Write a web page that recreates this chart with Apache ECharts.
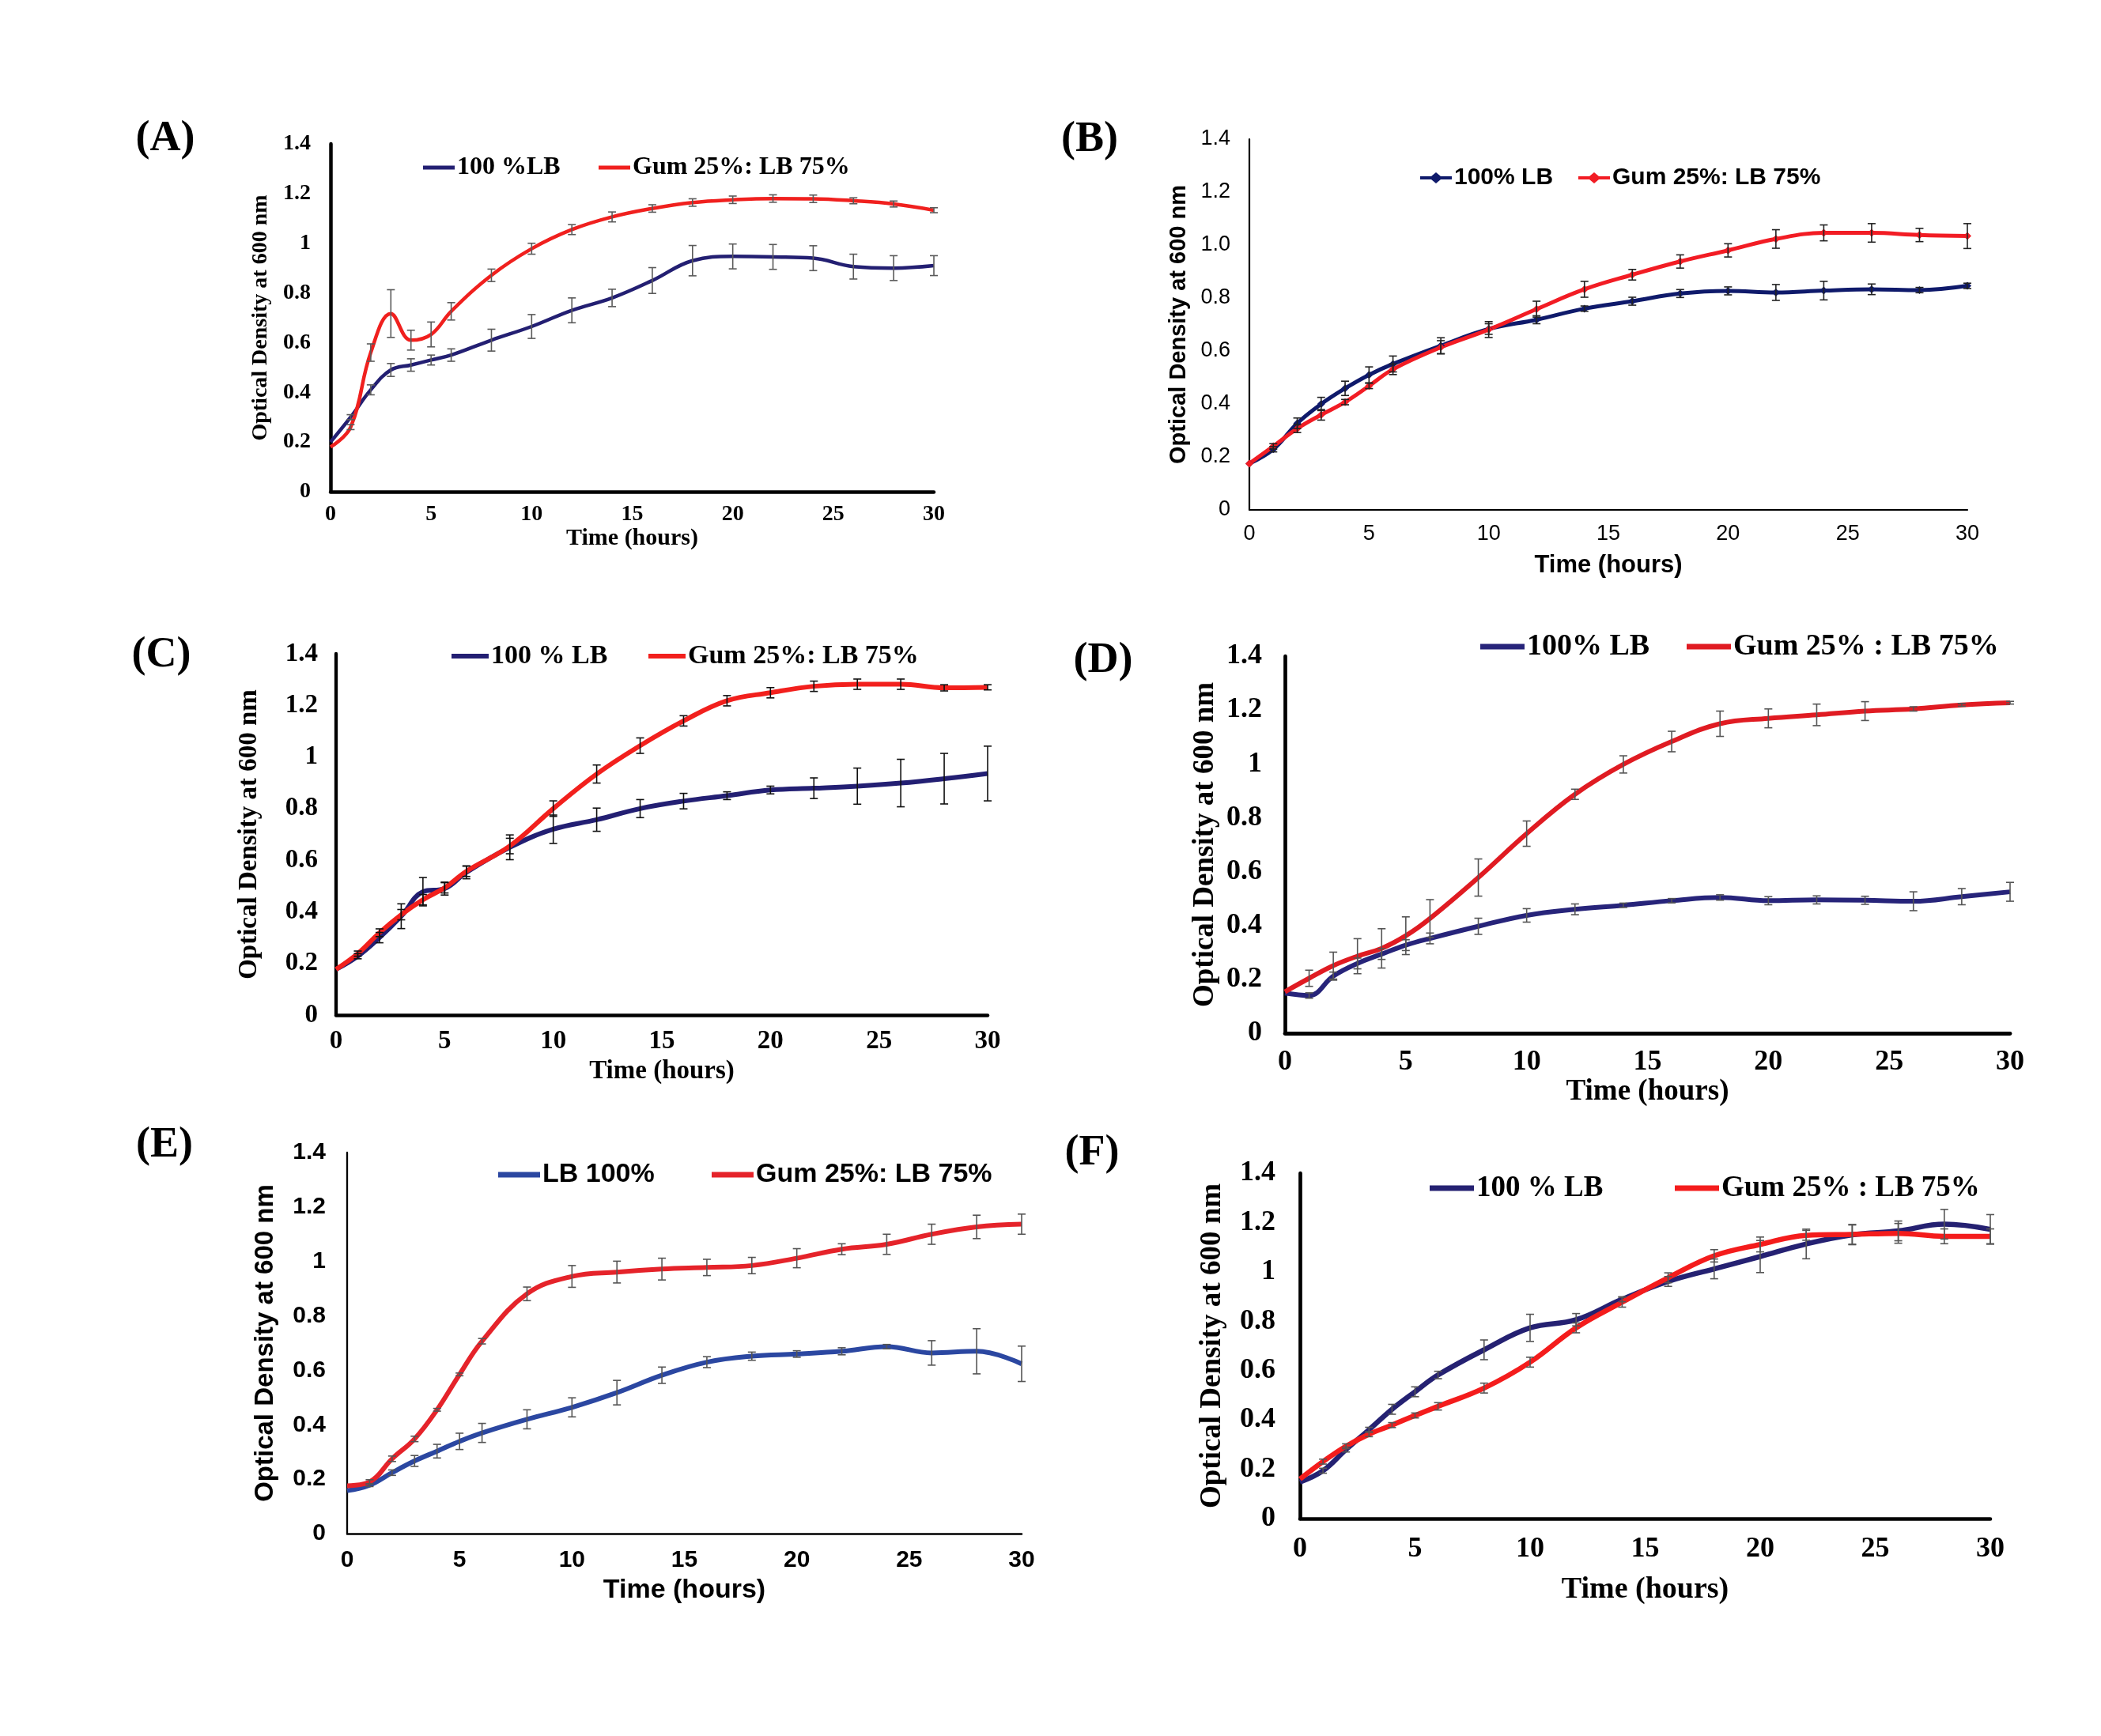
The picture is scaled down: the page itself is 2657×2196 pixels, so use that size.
<!DOCTYPE html>
<html>
<head>
<meta charset="utf-8">
<title>Growth curves A-F</title>
<script src="https://cdn.jsdelivr.net/npm/echarts@6/dist/echarts.min.js"></script>
<style>
html,body{margin:0;padding:0;background:#fff;}
#main{width:2657px;height:2196px;}
</style>
</head>
<body>
<div id="main"></div>
<script>
// sampling times (hours), same for every panel
var hours = [0,1,2,3,4,5,6,8,10,12,14,16,18,20,22,24,26,28,30];

// (A)
var aLB     = [0.20,0.30,0.41,0.49,0.51,0.53,0.55,0.61,0.665,0.73,0.78,0.85,0.93,0.947,0.945,0.94,0.906,0.90,0.91];
var aLBErr  = [0,0.01,0.02,0.026,0.025,0.02,0.025,0.044,0.048,0.05,0.035,0.052,0.061,0.05,0.05,0.05,0.05,0.05,0.04];
var aGum    = [0.18,0.26,0.56,0.717,0.61,0.633,0.726,0.871,0.978,1.055,1.106,1.14,1.164,1.175,1.18,1.179,1.171,1.158,1.133];
var aGumErr = [0,0.01,0.035,0.096,0.04,0.05,0.035,0.025,0.022,0.02,0.02,0.015,0.015,0.015,0.015,0.015,0.012,0.012,0.01];
// (B)
var bLB     = [0.175,0.229,0.327,0.40,0.459,0.51,0.551,0.62,0.683,0.718,0.76,0.788,0.817,0.827,0.821,0.828,0.833,0.83,0.846];
var bLBErr  = [0,0.01,0.02,0.025,0.027,0.03,0.03,0.03,0.02,0.015,0.01,0.015,0.015,0.015,0.03,0.035,0.02,0.01,0.01];
var bGum    = [0.175,0.24,0.307,0.359,0.407,0.468,0.531,0.614,0.681,0.758,0.833,0.888,0.938,0.98,1.023,1.046,1.046,1.038,1.034];
var bGumErr = [0,0.01,0.015,0.02,0.01,0.01,0.02,0.025,0.03,0.03,0.03,0.02,0.025,0.025,0.035,0.03,0.035,0.025,0.047];
// (C)
var cLB     = [0.177,0.228,0.30,0.383,0.478,0.49,0.553,0.65,0.72,0.757,0.80,0.829,0.85,0.872,0.879,0.887,0.899,0.916,0.936];
var cLBErr  = [0,0.01,0.02,0.048,0.055,0.025,0.025,0.048,0.055,0.045,0.035,0.03,0.015,0.015,0.04,0.07,0.092,0.098,0.106];
var cGum    = [0.177,0.238,0.319,0.389,0.447,0.493,0.557,0.655,0.80,0.934,1.044,1.14,1.218,1.249,1.274,1.282,1.282,1.268,1.27];
var cGumErr = [0,0.01,0.015,0.02,0.02,0.02,0.02,0.03,0.03,0.035,0.03,0.02,0.02,0.02,0.02,0.02,0.02,0.012,0.01];
// (D)
var dLB     = [0.149,0.14,0.212,0.259,0.294,0.327,0.352,0.397,0.4375,0.46,0.475,0.492,0.504,0.492,0.495,0.4935,0.49,0.507,0.525];
var dLBErr  = [0,0.01,0.015,0.02,0.02,0.02,0.02,0.03,0.025,0.02,0.008,0.008,0.01,0.015,0.015,0.015,0.035,0.03,0.035];
var dGum    = [0.154,0.204,0.251,0.286,0.315,0.362,0.426,0.578,0.741,0.887,0.998,1.083,1.149,1.169,1.182,1.196,1.204,1.219,1.227];
var dGumErr = [0,0.03,0.05,0.065,0.073,0.07,0.07,0.069,0.047,0.019,0.032,0.038,0.047,0.035,0.04,0.035,0.008,0.005,0.005];
// (E)
var eLB     = [0.158,0.178,0.224,0.267,0.303,0.339,0.37,0.42,0.464,0.518,0.582,0.63,0.652,0.66,0.67,0.687,0.664,0.67,0.624];
var eLBErr  = [0,0.005,0.01,0.02,0.025,0.03,0.035,0.035,0.035,0.045,0.03,0.02,0.015,0.012,0.013,0.008,0.045,0.083,0.065];
var eGum    = [0.176,0.19,0.275,0.348,0.455,0.585,0.707,0.881,0.945,0.961,0.972,0.978,0.985,1.012,1.045,1.063,1.10,1.127,1.137];
var eGumErr = [0,0.008,0.01,0.01,0.005,0.005,0.01,0.025,0.04,0.04,0.04,0.03,0.03,0.035,0.02,0.037,0.037,0.043,0.037];
// (F)
var fLB     = [0.148,0.194,0.28,0.36,0.443,0.514,0.582,0.684,0.773,0.806,0.889,0.961,1.012,1.062,1.113,1.15,1.166,1.193,1.172];
var fLBErr  = [0,0.01,0.01,0.01,0.02,0.02,0.015,0.04,0.055,0.025,0.01,0.02,0.04,0.065,0.06,0.04,0.04,0.06,0.06];
var fGum    = [0.16,0.231,0.293,0.342,0.379,0.418,0.455,0.529,0.634,0.773,0.877,0.976,1.065,1.111,1.148,1.152,1.156,1.144,1.144];
var fGumErr = [0,0.01,0.01,0.01,0.01,0.01,0.015,0.02,0.02,0.02,0.02,0.02,0.025,0.03,0.02,0.04,0.04,0.03,0.03];

// legend texts
var lbNames  = ['100 %LB','100% LB','100 % LB','100% LB','LB 100%','100 % LB'];
var gumNames = ['Gum 25%: LB 75%','Gum 25%: LB 75%','Gum 25%: LB 75%','Gum 25% : LB 75%','Gum 25%: LB 75%','Gum 25% : LB 75%'];
var tags = ['(A)','(B)','(C)','(D)','(E)','(F)'];

var SERIF = '"Liberation Serif","Times New Roman",serif';
var SANS = '"Liberation Sans",Arial,sans-serif';

// layout / style per panel
var panels = [
	{tag:[209,176], grid:{left:418,top:182,width:763,height:440}, font:SERIF, tickFs:28, tickW:'bold', yFs:28, xFs:30,
	 yGap:74, xGap:42, xLm:15, yLm:25, axX:4.5, axY:4.5, lw:4.5, blue:'#231f72', red:'#f0201e', err:'#5a5a5a',
	 lb:aLB, lbE:aLBErr, gum:aGum, gumE:aGumErr, lgFs:32, iw:40, ih:5, lg:[[535,212],[757,212]]},
	{tag:[1378,177], grid:{left:1580,top:176,width:908,height:469}, font:SANS, tickFs:27, tickW:'normal', yFs:29, xFs:31,
	 yGap:75, xGap:55, xLm:17, yLm:24, axX:2.2, axY:2.2, lw:5, blue:'#0f1a6b', red:'#f21c24', err:'#222222',
	 lb:bLB, lbE:bLBErr, gum:bGum, gumE:bGumErr, lgFs:30, iw:40, ih:14, lg:[[1796,225],[1996,225]], marker:true, oneDec:true},
	{tag:[204,829], grid:{left:425,top:827,width:824,height:457}, font:SERIF, tickFs:33, tickW:'bold', yFs:33, xFs:33,
	 yGap:93, xGap:55, xLm:17, yLm:23, axX:4.5, axY:4.3, lw:6, blue:'#231f73', red:'#f2201d', err:'#111111',
	 lb:cLB, lbE:cLBErr, gum:cGum, gumE:cGumErr, lgFs:34, iw:47, ih:6, lg:[[571,830],[820,830]]},
	{tag:[1395,836], grid:{left:1625,top:830,width:917,height:477}, font:SERIF, tickFs:36, tickW:'bold', yFs:37, xFs:37,
	 yGap:82, xGap:55, xLm:19, yLm:29, axX:4.8, axY:4.7, lw:6, blue:'#27247a', red:'#e01b22', err:'#555555',
	 lb:dLB, lbE:dLBErr, gum:dGum, gumE:dGumErr, lgFs:38, iw:56, ih:7, lg:[[1872,818],[2133,818]]},
	{tag:[208,1449], grid:{left:439,top:1458,width:853,height:482}, font:SANS, tickFs:30, tickW:'bold', yFs:33, xFs:34,
	 yGap:87, xGap:55, xLm:19, yLm:27, axX:2.5, axY:2.3, lw:6, blue:'#2b47a1', red:'#e5232a', err:'#555555',
	 lb:eLB, lbE:eLBErr, gum:eGum, gumE:eGumErr, lgFs:34, iw:53, ih:7, lg:[[630,1486],[900,1486]]},
	{tag:[1381,1459], grid:{left:1644,top:1484,width:873,height:437}, font:SERIF, tickFs:36, tickW:'bold', yFs:37, xFs:38,
	 yGap:92, xGap:71, xLm:21, yLm:31, axX:4.6, axY:4.7, lw:6.5, blue:'#252172', red:'#f41c1c', err:'#555555',
	 lb:fLB, lbE:fLBErr, gum:fGum, gumE:fGumErr, lgFs:37, iw:56, ih:7, lg:[[1808,1503],[2118,1503]]}
];

function pairs(vals){
	return hours.map(function(h,k){ return [h, vals[k]]; });
}

// vertical error bar with caps, drawn through the axes
function errSeries(i, vals, errs, color){
	return {
		type:'custom', xAxisIndex:i, yAxisIndex:i, silent:true, z:4,
		encode:{x:0, y:[1,2]},
		data: hours.map(function(h,k){ return [h, vals[k]-errs[k], vals[k]+errs[k]]; }),
		renderItem:function(params, api){
			if (api.value(2) - api.value(1) <= 0) return null;
			var lo = api.coord([api.value(0), api.value(1)]);
			var hi = api.coord([api.value(0), api.value(2)]);
			var w = 5, st = {stroke:color, lineWidth:1.6};
			return {type:'group', children:[
				{type:'line', shape:{x1:lo[0],y1:lo[1],x2:hi[0],y2:hi[1]}, style:st},
				{type:'line', shape:{x1:lo[0]-w,y1:lo[1],x2:lo[0]+w,y2:lo[1]}, style:st},
				{type:'line', shape:{x1:hi[0]-w,y1:hi[1],x2:hi[0]+w,y2:hi[1]}, style:st}
			]};
		}
	};
}

var grids = [], xAxes = [], yAxes = [], series = [], legends = [], graphics = [];
// legend icon for panel B: thick line with a diamond in the middle (40 x 14 box)
var markerIcon = 'path://M0,5L14,5L20,0L26,5L40,5L40,9L26,9L20,14L14,9L0,9Z';

panels.forEach(function(p, i){
	grids.push(p.grid);
	var tickStyle = {fontFamily:p.font, fontWeight:p.tickW, fontSize:p.tickFs, color:'#000'};
	xAxes.push({
		type:'value', gridIndex:i, min:0, max:30, interval:5,
		splitLine:{show:false}, axisTick:{show:false},
		axisLine:{lineStyle:{color:'#000', width:p.axX}},
		axisLabel:Object.assign({margin:p.xLm}, tickStyle),
		name:'Time (hours)', nameLocation:'middle', nameGap:p.xGap,
		nameTextStyle:{fontFamily:p.font, fontWeight:'bold', fontSize:p.xFs, color:'#000'}
	});
	yAxes.push({
		type:'value', gridIndex:i, min:0, max:1.4, interval:0.2,
		splitLine:{show:false}, axisTick:{show:false},
		axisLine:{show:true, lineStyle:{color:'#000', width:p.axY}},
		axisLabel:Object.assign({margin:p.yLm, formatter:function(v){
			if (p.oneDec) return v === 0 ? '0' : v.toFixed(1);
			return String(+v.toFixed(1));
		}}, tickStyle),
		name:'Optical Density at 600 nm', nameLocation:'middle', nameRotate:90, nameGap:p.yGap,
		nameTextStyle:{fontFamily:p.font, fontWeight:'bold', fontSize:p.yFs, color:'#000'}
	});

	var names = [tags[i] + 'lb', tags[i] + 'gum'];
	var cols = [p.blue, p.red];
	[p.lb, p.gum].forEach(function(vals, s){
		series.push({
			name:names[s], type:'line', xAxisIndex:i, yAxisIndex:i, z:3,
			data:pairs(vals), smooth:0.4,
			showSymbol:!!p.marker, symbol:'diamond', symbolSize:10,
			itemStyle:{color:cols[s]},
			lineStyle:{color:cols[s], width:p.lw}
		});
	});
	series.push(errSeries(i, p.lb, p.lbE, p.err));
	series.push(errSeries(i, p.gum, p.gumE, p.err));

	[lbNames[i], gumNames[i]].forEach(function(txt, s){
		legends.push({
			left:p.lg[s][0], top:p.lg[s][1] - p.lgFs/2, padding:0, selectedMode:false,
			itemWidth:p.iw, itemHeight:p.ih, itemGap:0,
			icon: p.marker ? markerIcon : 'rect',
			data:[names[s]], formatter:txt,
			textStyle:{fontFamily:p.font, fontWeight:'bold', fontSize:p.lgFs, color:'#000', padding:[0,0,0,-2]}
		});
	});

	graphics.push({
		type:'text', x:p.tag[0], y:p.tag[1],
		style:{text:tags[i], font:'bold 54px ' + SERIF, fill:'#000', textAlign:'center', textVerticalAlign:'middle'}
	});
});

var myChart = echarts.init(document.getElementById('main'));
myChart.setOption({
	backgroundColor:'#fff',
	animation:false,
	graphic:graphics,
	legend:legends,
	grid:grids,
	xAxis:xAxes,
	yAxis:yAxes,
	series:series
});
</script>
</body>
</html>
